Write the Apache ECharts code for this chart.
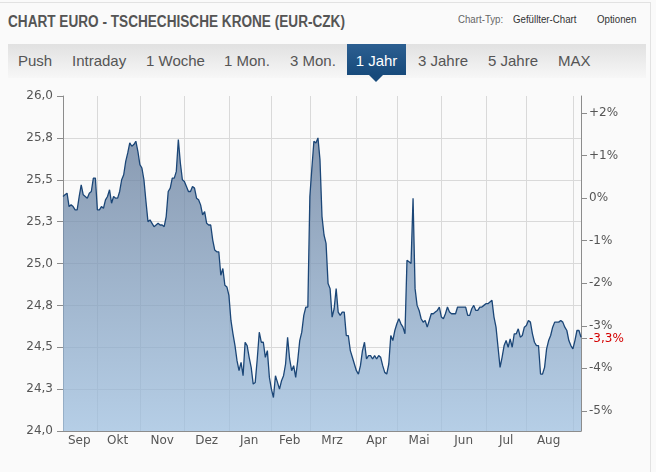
<!DOCTYPE html>
<html>
<head>
<meta charset="utf-8">
<script src="https://cdn.jsdelivr.net/npm/echarts@6/dist/echarts.min.js"></script>
<style>
    html, body { margin: 0; padding: 0; background: #fafafa; }
    #wrap { position: relative; width: 656px; height: 472px; overflow: hidden; font-family: "Liberation Sans", Arial, sans-serif; }
    .frame { position: absolute; left: -1px; top: 2px; width: 652px; height: 480px; border: 1px solid #e2e2e2; box-sizing: border-box; }
    .title { position: absolute; left: 8px; top: 13px; font-size: 16px; font-weight: bold; color: #555; white-space: nowrap; transform: scaleX(0.85); transform-origin: 0 0; }
    .opts { position: absolute; top: 13px; font-size: 11px; color: #333; white-space: nowrap; transform: scaleX(0.88); transform-origin: 0 0; }
    .tabs { position: absolute; left: 8px; top: 44px; width: 638px; height: 34px; background: linear-gradient(#e1e1e1, #f7f7f7); }
    .tab { position: absolute; top: 52px; font-size: 15px; color: #555; white-space: nowrap; }
    .active { position: absolute; left: 347px; top: 44px; width: 59px; height: 31px; background: linear-gradient(#2c5f91, #174a7b); color: #fff; font-size: 15px; text-align: center; line-height: 33px; }
    .arrow { position: absolute; left: 369px; top: 75px; width: 0; height: 0; border-left: 7px solid transparent; border-right: 7px solid transparent; border-top: 7px solid #174a7b; }
    #chart { position: absolute; left: 0; top: 0; width: 656px; height: 472px; }
</style>
</head>
<body>
<div id="wrap">
    <div class="frame"></div>
    <div class="title">CHART EURO - TSCHECHISCHE KRONE (EUR-CZK)</div>
    <div class="opts" style="left:458px;color:#666">Chart-Typ:</div>
    <div class="opts" style="left:513px">Gefüllter-Chart</div>
    <div class="opts" style="left:597px">Optionen</div>
    <div class="tabs"></div>
    <div class="tab" style="left:18px">Push</div>
    <div class="tab" style="left:72px">Intraday</div>
    <div class="tab" style="left:146px">1 Woche</div>
    <div class="tab" style="left:224px">1 Mon.</div>
    <div class="tab" style="left:290px">3 Mon.</div>
    <div class="active">1 Jahr</div>
    <div class="arrow"></div>
    <div class="tab" style="left:418px">3 Jahre</div>
    <div class="tab" style="left:488px">5 Jahre</div>
    <div class="tab" style="left:558px">MAX</div>
    <div id="chart"></div>
</div>

<script>
const sep0 = [25.40, 25.41, 25.42, 25.34, 25.35, 25.34, 25.32, 25.32, 25.40, 25.47, 25.41, 25.40, 25.39, 25.42, 25.43, 25.51, 25.51];
const okt = [25.32, 25.32, 25.34, 25.33, 25.38, 25.40, 25.44, 25.36, 25.40, 25.39, 25.39, 25.43, 25.50, 25.53, 25.61, 25.66, 25.72, 25.70, 25.71, 25.73, 25.67];
const nov = [25.59, 25.57, 25.50, 25.37, 25.25, 25.26, 25.24, 25.22, 25.23, 25.24, 25.23, 25.23, 25.22, 25.28, 25.43, 25.45, 25.51, 25.51, 25.55, 25.74, 25.60, 25.50];
const dez = [25.49, 25.46, 25.43, 25.43, 25.46, 25.45, 25.39, 25.38, 25.35, 25.29, 25.31, 25.24, 25.23, 25.23, 25.14, 25.08, 25.07, 25.07, 24.93, 24.97, 24.87, 24.86];
const jan = [24.81, 24.66, 24.58, 24.51, 24.42, 24.36, 24.41, 24.33, 24.53, 24.51, 24.44, 24.38, 24.28, 24.29, 24.43, 24.59, 24.53, 24.53, 24.44, 24.48, 24.32];
const feb = [24.25, 24.20, 24.33, 24.29, 24.25, 24.30, 24.33, 24.40, 24.56, 24.43, 24.36, 24.39, 24.32, 24.42, 24.54, 24.59, 24.69, 24.74, 24.74];
const mrz = [25.40, 25.57, 25.73, 25.72, 25.75, 25.62, 25.28, 25.17, 25.12, 24.88, 24.85, 24.68, 24.73, 24.85, 24.71, 24.69, 24.71, 24.71, 24.57, 24.57, 24.48, 24.44, 24.40];
const apr = [24.36, 24.34, 24.39, 24.48, 24.53, 24.43, 24.45, 24.45, 24.43, 24.45, 24.43, 24.45, 24.44, 24.39, 24.35, 24.34, 24.40, 24.57, 24.54, 24.60];
const mai = [24.64, 24.67, 24.64, 24.62, 24.58, 25.02, 25.01, 25.00, 25.39, 24.85, 24.75, 24.72, 24.67, 24.65, 24.66, 24.62, 24.66, 24.70, 24.70, 24.71, 24.72, 24.74];
const jun = [24.68, 24.67, 24.70, 24.74, 24.71, 24.70, 24.70, 24.70, 24.74, 24.74, 24.74, 24.74, 24.74, 24.69, 24.69, 24.73, 24.75, 24.72, 24.72, 24.74, 24.74, 24.75];
const jul = [24.76, 24.76, 24.77, 24.78, 24.68, 24.62, 24.50, 24.38, 24.44, 24.51, 24.54, 24.50, 24.55, 24.50, 24.58, 24.58, 24.61, 24.56, 24.57, 24.62];
const aug = [24.63, 24.66, 24.65, 24.58, 24.53, 24.51, 24.51, 24.34, 24.34, 24.38, 24.49, 24.54, 24.57, 24.62, 24.65, 24.65, 24.65, 24.66, 24.65, 24.62, 24.60, 24.54, 24.51];
const sep1 = [24.49, 24.54, 24.60, 24.60, 24.56];

const monthNames = ['Sep', 'Okt', 'Nov', 'Dez', 'Jan', 'Feb', 'Mrz', 'Apr', 'Mai', 'Jun', 'Jul', 'Aug', ''];
const monthData = [sep0, okt, nov, dez, jan, feb, mrz, apr, mai, jun, jul, aug, sep1];

const leftTicks = [24.0, 24.25, 24.5, 24.75, 25.0, 25.25, 25.5, 25.75, 26.0];
const pctTicks = [-5, -4, -3, -2, -1, 0, 1, 2];
const startValue = 25.39;   // 0%-Linie
const lastPct = -3.3;


// Kategorien und Markierungen aufbauen
const categories = [];
const values = [];
const monthStarts = new Set();
const labelIdx = new Set();
monthData.forEach((arr, m) => {
    const start = categories.length;
    if (m > 0) monthStarts.add(start);
    if (monthNames[m]) labelIdx.add(start + Math.floor(arr.length / 2));
    arr.forEach((v, k) => {
        categories.push(monthNames[m] + '|' + k);
        values.push(v);
    });
});

const pctMin = (leftTicks[0] / startValue - 1) * 100;
const pctMax = (leftTicks[leftTicks.length - 1] / startValue - 1) * 100;

const labelFont = { fontFamily: 'DejaVu Sans', fontSize: 12, color: '#555' };

const chart = echarts.init(document.getElementById('chart'), null, { renderer: 'canvas' });

const option = {
    animation: false,
    backgroundColor: 'transparent',
    grid: { left: 63, right: 75, top: 96, bottom: 41 },
    xAxis: {
        type: 'category',
        data: categories,
        boundaryGap: false,
        axisLine: { onZero: false, lineStyle: { color: '#8c8c8c', width: 1 } },
        axisTick: { show: false },
        axisLabel: {
            ...labelFont,
            margin: 4,
            interval: (i) => labelIdx.has(i),
            formatter: (v) => v.split('|')[0]
        },
        splitLine: {
            show: true,
            interval: (i) => monthStarts.has(i),
            lineStyle: { color: '#d9d9d9', width: 1 }
        }
    },
    yAxis: [
        {
            type: 'value',
            min: 24,
            max: 26,
            interval: 0.25,
            axisLine: { show: true, lineStyle: { color: '#8c8c8c' } },
            axisTick: { show: true, length: 6, lineStyle: { color: '#8c8c8c' } },
            axisLabel: {
                ...labelFont,
                margin: 10,
                formatter: (v) => v.toFixed(1).replace('.', ',')
            },
            splitLine: {
                show: true,
                showMaxLine: false,
                showMinLine: false,
                lineStyle: { color: '#d9d9d9', width: 1 }
            }
        },
        {
            type: 'value',
            position: 'right',
            min: pctMin,
            max: pctMax,
            axisLine: { show: true, lineStyle: { color: '#8c8c8c' } },
            axisTick: { show: true, length: 6, lineStyle: { color: '#8c8c8c' }, customValues: pctTicks.concat([lastPct]) },
            axisLabel: {
                ...labelFont,
                margin: 8,
                customValues: pctTicks.concat([lastPct]),
                formatter: (v) => {
                    if (Math.abs(v - lastPct) < 1e-6) return '{red|' + String(lastPct).replace('.', ',') + '%}';
                    return (v > 0 ? '+' : '') + v + '%';
                },
                rich: {
                    red: { fontFamily: 'DejaVu Sans', fontSize: 12, color: '#d40000' }
                }
            },
            splitLine: { show: false }
        }
    ],
    series: [
        {
            type: 'line',
            data: values,
            symbol: 'none',
            smooth: false,
            lineStyle: { color: '#1b4677', width: 1.3 },
            areaStyle: {
                opacity: 0.75,
                color: new echarts.graphic.LinearGradient(0, 96, 0, 431, [
                    { offset: 0, color: '#5b7190' },
                    { offset: 1, color: '#9ebfdf' }
                ], true)
            }
        }
    ]
};

chart.setOption(option);
</script>
</body>
</html>
